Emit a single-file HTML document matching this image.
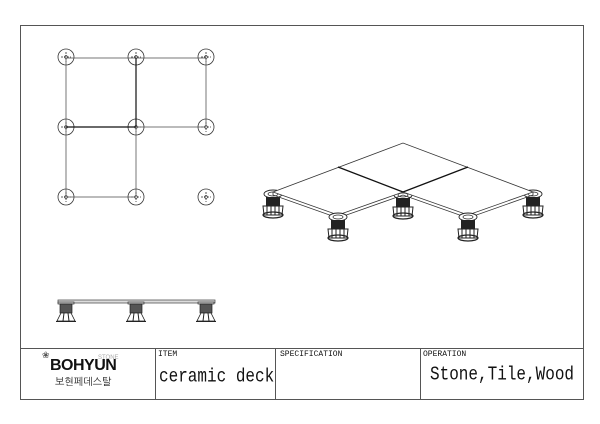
<!DOCTYPE html>
<html><head><meta charset="utf-8"><style>
body{margin:0;background:#fff;width:600px;height:424px;overflow:hidden;position:relative;font-family:"Liberation Sans",sans-serif}
.t{position:absolute;font-family:"Liberation Mono",monospace;color:#111;transform-origin:0 0}
</style></head><body>
<svg width="600" height="424" style="position:absolute;left:0;top:0">
<defs>
<g id="c"><circle r="8" fill="none" stroke="#333" stroke-width="0.8"/><line x1="-5" y1="0" x2="5" y2="0" stroke="#333" stroke-width="0.8" stroke-dasharray="2,1"/><line x1="0" y1="-5" x2="0" y2="5" stroke="#333" stroke-width="0.8" stroke-dasharray="2,1"/><circle r="1.5" fill="none" stroke="#333" stroke-width="0.6"/></g>
<g id="p"><ellipse cx="0" cy="-5" rx="9" ry="4" fill="#fff" stroke="#222" stroke-width="0.9"/><ellipse cx="0" cy="-5" rx="5" ry="2" fill="none" stroke="#222" stroke-width="0.7"/><rect x="-7" y="-2" width="14" height="9" fill="#222"/><path d="M-10,7 L10,7 L9,16 L-9,16Z" fill="#fff" stroke="#222"/><line x1="-6" y1="7" x2="-6" y2="16" stroke="#222"/><line x1="-2" y1="7" x2="-2" y2="16" stroke="#222"/><line x1="2" y1="7" x2="2" y2="16" stroke="#222"/><line x1="6" y1="7" x2="6" y2="16" stroke="#222"/><ellipse cx="0" cy="16" rx="10" ry="3" fill="none" stroke="#222" stroke-width="1.2"/></g>
<g id="s"><rect x="-8" y="0" width="16" height="2" fill="#ccc" stroke="#333" stroke-width="0.7"/><rect x="-6" y="2" width="12" height="9" fill="#555" stroke="#222" stroke-width="0.7"/><path d="M-5,11 L5,11 L9,19 L-9,19Z" fill="#fff" stroke="#222" stroke-width="0.8"/><line x1="-2" y1="11" x2="-3" y2="19" stroke="#222"/><line x1="2" y1="11" x2="3" y2="19" stroke="#222"/><line x1="-10" y1="19.5" x2="10" y2="19.5" stroke="#222"/></g>
</defs>
<rect x="20.5" y="25.5" width="563" height="374" fill="none" stroke="#555"/>
<line x1="20" y1="348.5" x2="583" y2="348.5" stroke="#555"/>
<line x1="155.5" y1="348" x2="155.5" y2="399" stroke="#555"/>
<line x1="275.5" y1="348" x2="275.5" y2="399" stroke="#555"/>
<line x1="420.5" y1="348" x2="420.5" y2="399" stroke="#555"/>
<use href="#c" x="66" y="57"/><use href="#c" x="136" y="57"/><use href="#c" x="206" y="57"/>
<use href="#c" x="66" y="127"/><use href="#c" x="136" y="127"/><use href="#c" x="206" y="127"/>
<use href="#c" x="66" y="197"/><use href="#c" x="136" y="197"/><use href="#c" x="206" y="197"/>
<g fill="none" stroke="#555" stroke-width="0.8">
<rect x="66" y="58" width="70" height="69"/><rect x="136" y="58" width="70" height="69"/><rect x="66" y="127" width="70" height="70"/>
</g>
<line x1="66" y1="127" x2="136" y2="127" stroke="#111" stroke-width="1.2"/><line x1="136" y1="58" x2="136" y2="127" stroke="#111" stroke-width="1.2"/>
<use href="#p" x="273" y="199"/><use href="#p" x="533" y="199"/><use href="#p" x="403" y="200"/>
<g fill="#fff" stroke="#333" stroke-width="0.8">
<path d="M273,192 L403,143 L533,192 L468,215 L403,192 L338,215Z"/>
</g>
<path d="M273,192 L273,195 L338,218 L403,195 L468,218 L533,195 L533,192" fill="none" stroke="#333" stroke-width="0.8"/>
<line x1="338" y1="167" x2="403" y2="192" stroke="#111" stroke-width="1.3"/><line x1="468" y1="167" x2="403" y2="192" stroke="#111" stroke-width="1.3"/>
<use href="#p" x="338" y="222"/><use href="#p" x="468" y="222"/>
<rect x="58" y="300" width="157" height="3" fill="#ddd" stroke="#555" stroke-width="0.8"/>
<use href="#s" x="66" y="302"/><use href="#s" x="136" y="302"/><use href="#s" x="206" y="302"/>
</svg>
<div class="t" style="left:158px;top:350px;font-size:8px">ITEM</div>
<div class="t" style="left:280px;top:350px;font-size:8px">SPECIFICATION</div>
<div class="t" style="left:423px;top:350px;font-size:8px">OPERATION</div>
<div class="t" style="left:159px;top:366px;font-size:16px;transform:scaleY(1.2)">ceramic deck</div>
<div class="t" style="left:430px;top:364px;font-size:16px;transform:scaleY(1.2)">Stone,Tile,Wood</div>
<div style="position:absolute;left:98px;top:355px;font-size:6px;color:#aaa">STONE</div>
<div style="position:absolute;left:50px;top:357px;font-size:16px;font-weight:bold;color:#111;letter-spacing:-0.5px">BOHYUN</div>
<div style="position:absolute;left:55px;top:376px;font-size:10px;color:#222;font-family:'Liberation Sans','NanumGothic',sans-serif">보현페데스탈</div>
<div style="position:absolute;left:42px;top:350px;font-size:9px;color:#555">❀</div>
</body></html>
